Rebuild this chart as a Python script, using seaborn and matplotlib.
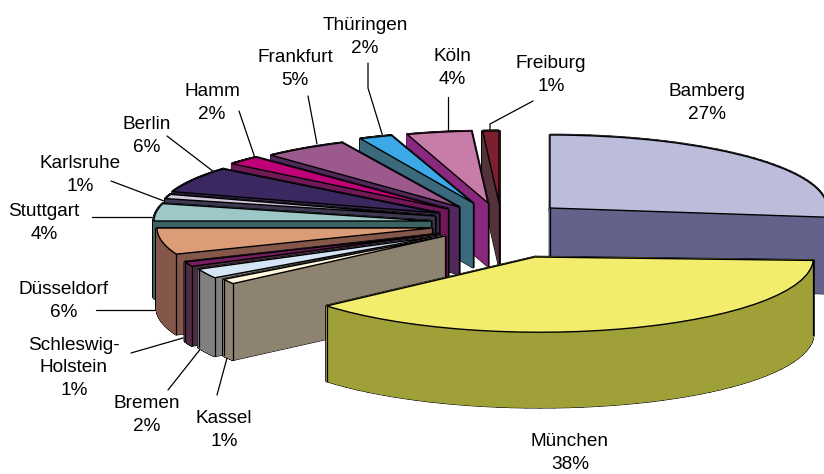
import matplotlib
matplotlib.use('Agg')
import matplotlib.pyplot as plt
from matplotlib.patches import Polygon, Wedge
from matplotlib.transforms import Affine2D
import numpy as np
import seaborn as sns

W, H = 824, 474

names = ['Bamberg', 'München', 'Kassel', 'Bremen', 'Schleswig-\nHolstein', 'Düsseldorf', 'Stuttgart',
         'Karlsruhe', 'Berlin', 'Hamm', 'Frankfurt', 'Thüringen', 'Köln', 'Freiburg']
values = [27, 38, 1, 2, 1, 6, 4, 1, 6, 2, 5, 2, 4, 1]

top_colors = ['#BCBCDB', '#F3ED6E', '#FFF8DC', '#D6E5F5', '#7A1C62', '#DC9C78', '#9CC8C8',
              '#D4C8E0', '#3C2860', '#C00078', '#9C5A8C', '#3CA8E8', '#C87CA8', '#7C2030']
side_colors = ['#64628A', '#A0A038', '#8E8270', '#808080', '#4E2C44', '#85574A', '#3D6464',
               '#3F3A52', '#3A2A50', '#701858', '#50285C', '#3A6A7C', '#8A2880', '#54323A']

# where each piece sits in the picture (pixels), the 3d look is faked with this
apex_x = [550, 535, 445, 441, 438, 432, 431, 435, 439, 448, 459, 473, 488, 499]
apex_y = [208, 257, 236, 236, 234, 228, 221, 216, 213, 209, 207, 203, 203, 203]
rad_x = [277, 277, 262, 268, 272, 275, 277, 278, 280, 280, 274, 264, 261, 260]
rad_y = [73, 75, 81, 78, 76, 71, 70, 70, 69, 71, 71, 71, 72, 72]
depth = [76, 75, 76, 78, 79, 80, 77, 74, 72, 70, 67, 64, 63, 62]
shear = [0, 27, 0, 0, 0, 0, 0, 0, 0, 0, 0, 0, 0, 0]
tilt = [0, 6, 0, 0, 0, 0, 0, 0, 0, 0, 0, 0, 0, 0]

label_x = [707, 570, 224, 147, 74, 64, 44, 80, 147, 212, 295, 365, 452, 551]
label_y = [103, 453, 430, 415, 368, 301, 223, 175, 136, 103, 69, 37, 68, 75]

leaders = [
    [(533, 101), (490, 124), (490, 131)],
    [(448, 97), (448, 131)],
    [(368, 63), (368, 88), (383, 137)],
    [(308, 96), (317, 144)],
    [(239, 111), (255, 158)],
    [(167, 136), (214, 172)],
    [(111, 181), (164, 201)],
    [(92, 217), (155, 217)],
    [(96, 310), (157, 310)],
    [(131, 353), (183, 338)],
    [(168, 390), (202, 347)],
    [(217, 395), (227, 358)],
]

sns.set_theme(style='white')
plt.rcParams['font.family'] = ['Liberation Sans', 'DejaVu Sans']

fig = plt.figure(figsize=(W / 100, H / 100), dpi=100)
ax = fig.add_axes([0, 0, 1, 1])

# the pie only gives the angles, then every piece is squashed and extruded
wedges, _ = ax.pie(values, startangle=90, counterclock=False, colors=sns.color_palette(top_colors))
angles = [(w.theta1, w.theta2) for w in wedges]
for w in wedges:
    w.remove()
ax.set_aspect('auto')
ax.set_xlim(0, W)
ax.set_ylim(0, H)
ax.axis('off')

for line in leaders:
    xs = [p[0] for p in line]
    ys = [H - p[1] for p in line]
    ax.plot(xs, ys, color='black', lw=0.9, zorder=1)


def draw_piece(i):
    t1, t2 = angles[i]
    base = Affine2D.from_values(rad_x[i], tilt[i], -shear[i], rad_y[i], apex_x[i], H - apex_y[i])
    t = np.radians(np.linspace(t1, t2, 48))
    rim = np.column_stack([np.cos(t), np.sin(t)])
    edge = base.transform(np.vstack([[0, 0], rim, [0, 0]]))
    # one quad per outline step makes the side wall
    quads = []
    for a, b in zip(edge[:-1], edge[1:]):
        quads.append([a, b, b - (0, depth[i]), a - (0, depth[i])])
    for q in quads:
        ax.add_patch(Polygon(q, facecolor='black', edgecolor='black', lw=1.9, joinstyle='round', zorder=3))
    # coloured twice, once leaves faint seams between the quads
    for q in quads + quads:
        ax.add_patch(Polygon(q, facecolor=side_colors[i], edgecolor=side_colors[i], lw=0.9,
                             joinstyle='round', zorder=3))
    # vertical edges of the sides
    corners = []
    if np.sin(np.radians(t1)) < 0:
        corners.append((np.cos(np.radians(t1)), np.sin(np.radians(t1))))
    if np.sin(np.radians(t2)) < 0:
        corners.append((np.cos(np.radians(t2)), np.sin(np.radians(t2))))
    if not (t1 % 360 <= 270 <= t2 % 360):
        corners.append((0, 0))
    for c in corners:
        x, y = base.transform(c)
        ax.plot([x, x], [y, y - depth[i]], color='black', lw=0.9, zorder=3)
    tr = base + ax.transData
    ax.add_patch(Wedge((0, 0), 1, t1, t2, transform=tr, facecolor=top_colors[i],
                       edgecolor='black', lw=1.0, joinstyle='round', zorder=3))


# back to front
draw_piece(0)
for i in range(len(values) - 1, 1, -1):
    draw_piece(i)
draw_piece(1)

for i, name in enumerate(names):
    ax.text(label_x[i], H - label_y[i], f'{name}\n{values[i]}%', ha='center', va='center',
            fontsize=13.7, color='black', linespacing=1.42, zorder=5)

fig.savefig('out.png', dpi=100)
